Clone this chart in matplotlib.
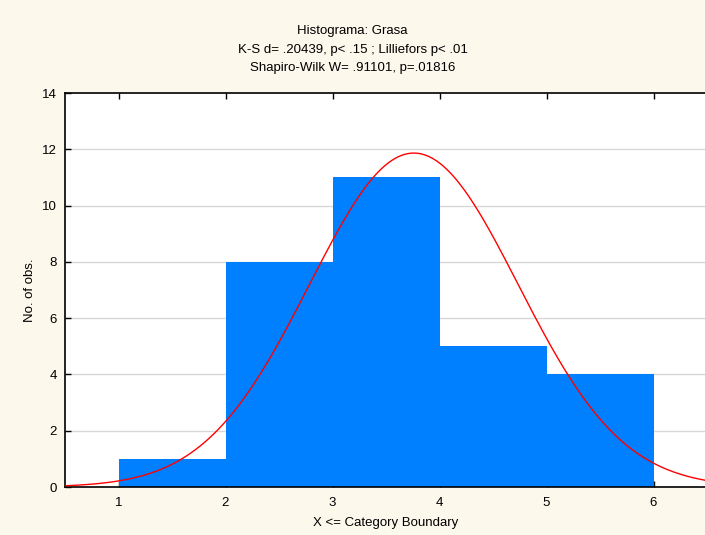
import numpy as np
import matplotlib
matplotlib.use("Agg")
import matplotlib.pyplot as plt

# Histogram data (category upper boundaries and counts)
bin_edges = [1, 2, 3, 4, 5, 6]
counts = [1, 8, 11, 5, 4]

# Fitted normal curve parameters
n_obs = 29
fit_mean = 3.76
fit_sd = 0.975

x_ticks = [1, 2, 3, 4, 5, 6]
y_ticks = [0, 2, 4, 6, 8, 10, 12, 14]

title_lines = [
    "Histograma: Grasa",
    "K-S d= .20439, p< .15 ; Lilliefors p< .01",
    "Shapiro-Wilk W= .91101, p=.01816",
]

plt.rcParams["font.family"] = ["Liberation Sans", "DejaVu Sans"]

fig = plt.figure(figsize=(7.05, 5.35), dpi=100)
fig.patch.set_facecolor("#fdf8ec")
ax = fig.add_axes([65 / 705, 48 / 535, 642 / 705, 394 / 535])
ax.set_facecolor("white")

widths = np.diff(bin_edges)
ax.bar(bin_edges[:-1], counts, width=widths, align="edge",
       color="#0080ff", edgecolor="none", linewidth=0, zorder=2)

xs = np.linspace(0.5, 6.5, 400)
binw = 1.0
ys = n_obs * binw / (fit_sd * np.sqrt(2 * np.pi)) * np.exp(-0.5 * ((xs - fit_mean) / fit_sd) ** 2)
ax.plot(xs, ys, color="#ff0000", linewidth=1.0, zorder=3)

ax.set_xlim(0.5, 6.5)
ax.set_ylim(0, 14)
ax.set_xticks(x_ticks)
ax.set_yticks(y_ticks)
ax.tick_params(direction="in", length=4, width=1, labelsize=9.5, top=True, right=False)
ax.tick_params(axis="x", pad=7)
ax.tick_params(axis="y", pad=6)
for yv in y_ticks[1:-1]:
    ax.axhline(yv, color="#d8d8d8", linewidth=1.0, zorder=1)
for s in ax.spines.values():
    s.set_linewidth(1.2)
ax.spines["right"].set_visible(False)

ax.set_xlabel("X <= Category Boundary", fontsize=9.5, labelpad=6)
ax.set_ylabel("No. of obs.", fontsize=9.5, labelpad=4)

for i, line in enumerate(title_lines):
    fig.text(0.5, 1 - (31 + i * 18.5) / 535, line, ha="center", va="center", fontsize=9.5)

fig.savefig("out.png", dpi=100, facecolor=fig.get_facecolor())
